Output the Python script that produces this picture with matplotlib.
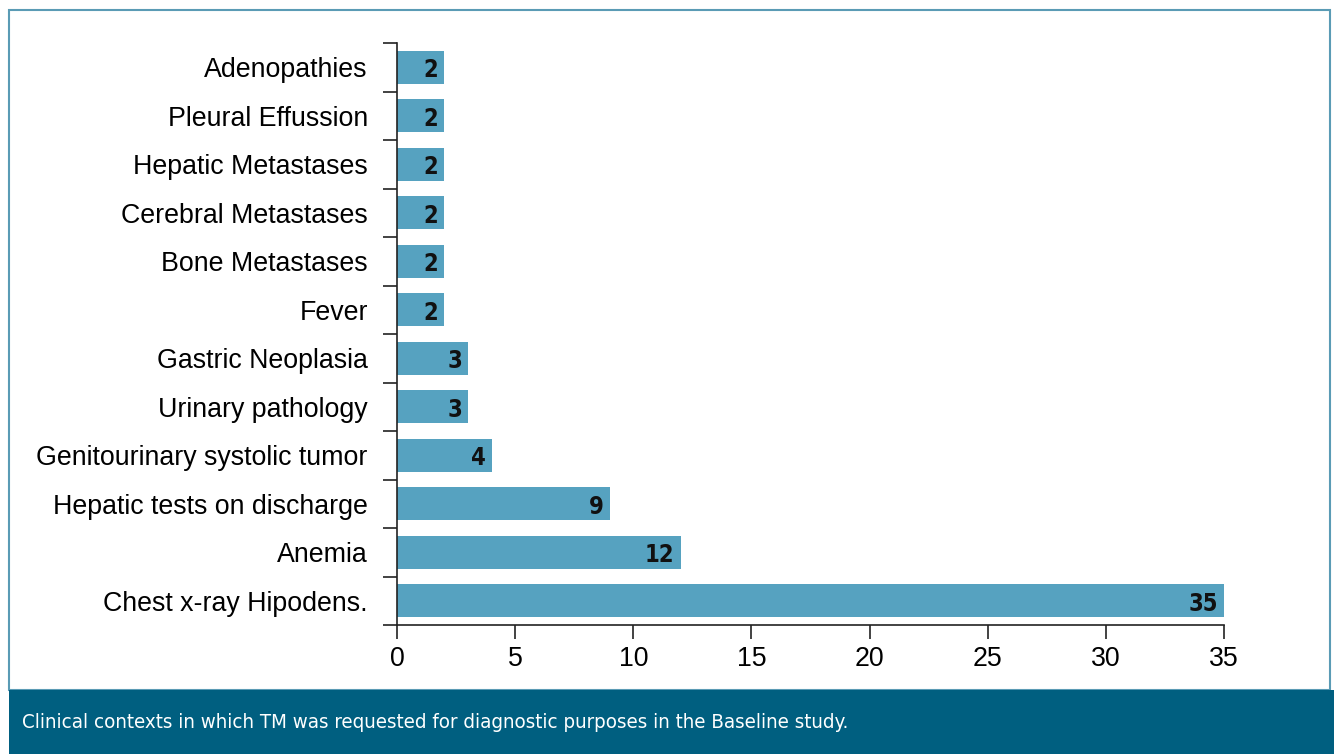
import numpy as np
import matplotlib
matplotlib.use("Agg")
from matplotlib import pyplot as plt
from matplotlib.patches import Rectangle

# data (top to bottom as shown)
categorias = ["Adenopathies", "Pleural Effussion", "Hepatic Metastases",
              "Cerebral Metastases", "Bone Metastases", "Fever",
              "Gastric Neoplasia", "Urinary pathology",
              "Genitourinary systolic tumor", "Hepatic tests on discharge",
              "Anemia", "Chest x-ray Hipodens."]
valores = [2, 2, 2, 2, 2, 2, 3, 3, 4, 9, 12, 35]
x_ticks = [0, 5, 10, 15, 20, 25, 30, 35]
legenda = "Clinical contexts in which TM was requested for diagnostic purposes in the Baseline study."

cor_barra = "#56A2C0"
cor_faixa = "#005F80"
cor_borda = "#5A9BB5"

plt.rcParams['font.family'] = ['Liberation Sans', 'DejaVu Sans']

fig = plt.figure(figsize=(13.34, 7.54), dpi=100)

# moldura e faixa da legenda
fig.patches.append(Rectangle((9/1334, 64/754), 1321/1334, 680/754,
                             transform=fig.transFigure, fill=False,
                             edgecolor=cor_borda, linewidth=1.5))
fig.patches.append(Rectangle((9/1334, 0), 1325/1334, 64/754,
                             transform=fig.transFigure, facecolor=cor_faixa,
                             edgecolor='none'))
fig.text(22/1334, 32/754, legenda, color='white', fontsize=14.7,
         family='DejaVu Sans', fontstretch='condensed',
         va='center', ha='left')

ax = fig.add_axes([397/1334, 129/754, 827/1334, 582/754])

n = len(categorias)
y = np.arange(n)
ax.barh(y, valores, height=0.68, color=cor_barra)
ax.set_ylim(n - 0.5, -0.5)
ax.set_xlim(0, 35)

for yi, v in zip(y, valores):
    ax.text(v - 0.25, yi + 0.06, str(v), ha='right', va='center', fontsize=17,
            fontweight='bold', family='DejaVu Sans', fontstretch='condensed',
            color='#111111')

ax.set_yticks(y)
ax.set_yticklabels(categorias, fontsize=19.3)
ax.set_yticks(np.arange(-0.5, n, 1), minor=True)
ax.tick_params(axis='y', which='major', length=0, pad=21)
ax.tick_params(axis='y', which='minor', length=10, width=1.2, color='#222222')

ax.set_xticks(x_ticks)
ax.set_xticklabels([str(t) for t in x_ticks], fontsize=19.3)
ax.tick_params(axis='x', length=10, width=1.2, color='#222222', pad=5)

for s in ['top', 'right']:
    ax.spines[s].set_visible(False)
for s in ['left', 'bottom']:
    ax.spines[s].set_linewidth(1.2)
    ax.spines[s].set_color('#222222')

fig.savefig("out.png", dpi=100)
